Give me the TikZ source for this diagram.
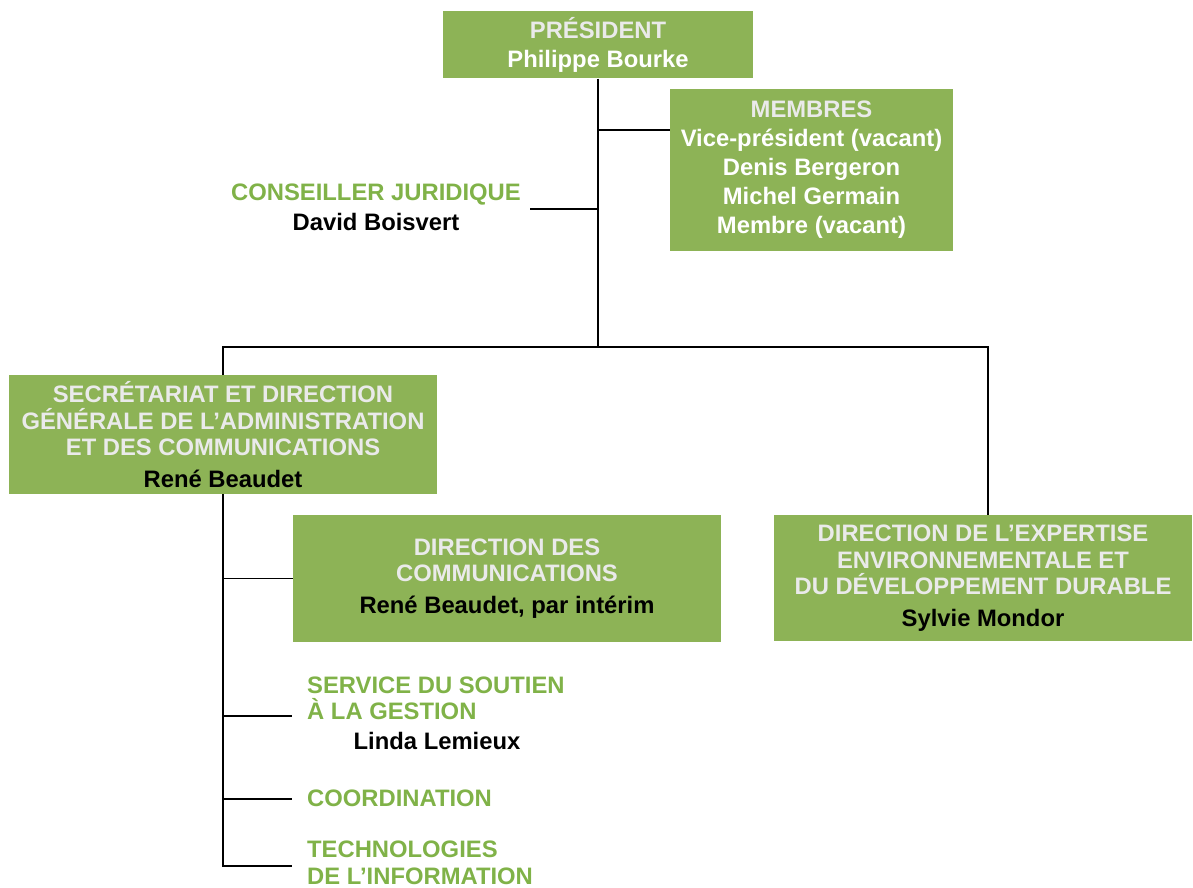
\documentclass[tikz,border=0pt]{standalone}
\usepackage{fontspec}
\setmainfont{Liberation Sans}
\usetikzlibrary{positioning,calc}
\definecolor{orgGreen}{RGB}{141,179,86}
\definecolor{orgText}{RGB}{128,178,72}
\definecolor{hdGrey}{RGB}{234,234,234}
\tikzset{
  box/.style={fill=orgGreen,align=center,inner sep=0pt,
              font=\bfseries\fontsize{23.8}{26.5}\selectfont},
  freetext/.style={align=left,inner sep=0pt,text=orgText,
              font=\bfseries\fontsize{23.8}{26.5}\selectfont},
  link/.style={line width=1.6pt},
}
\begin{document}
\begin{tikzpicture}[x=1pt,y=-1pt]
\useasboundingbox (0,0) rectangle (1193,888);

% top level
\node[box,minimum width=310,minimum height=67] (pres) at (598,45)
  {\color{hdGrey}PRÉSIDENT\\[2pt]\color{white}Philippe Bourke};
\node[box,minimum width=283,minimum height=162,
      font=\bfseries\fontsize{23.8}{29}\selectfont] (memb) at (811.5,170)
  {\color{hdGrey}MEMBRES\\\color{white}Vice-président (vacant)\\\color{white}Denis Bergeron\\
   \color{white}Michel Germain\\\color{white}Membre (vacant)};
\node[freetext,align=center,font=\bfseries\fontsize{23.8}{30}\selectfont] (cons) at (376,207)
  {CONSEILLER JURIDIQUE\\\color{black}David Boisvert};

% directions
\node[box,minimum width=428,minimum height=119] (sec) at (223,434.5)
  {\color{hdGrey}SECRÉTARIAT ET DIRECTION\\\color{hdGrey}GÉNÉRALE DE L’ADMINISTRATION\\
   \color{hdGrey}ET DES COMMUNICATIONS\\[5pt]\color{black}René Beaudet};
\node[box,minimum width=428,minimum height=127] (comm) at (507,578.5)
  {\color{hdGrey}DIRECTION DES\\\color{hdGrey}COMMUNICATIONS\\[5pt]\color{black}René Beaudet, par intérim};
\node[box,minimum width=418,minimum height=126] (exp) at (983,578)
  {\color{hdGrey}DIRECTION DE L’EXPERTISE\\\color{hdGrey}ENVIRONNEMENTALE ET\\
   \color{hdGrey}DU DÉVELOPPEMENT DURABLE\\[5pt]\color{black}Sylvie Mondor};

% services
\node[freetext,anchor=west] (sout) at (307,698.5) {SERVICE DU SOUTIEN\\À LA GESTION};
\node[freetext,text=black] (lem) at (437,741) {Linda Lemieux};
\node[freetext,anchor=west] (coord) at (307,798) {COORDINATION};
\node[freetext,anchor=west] (tech) at (307,863) {TECHNOLOGIES\\DE L’INFORMATION};

% connectors
\coordinate (bus) at (598,347);
\coordinate (membIn) at (670,130);
\coordinate (consIn) at (530,209);
\coordinate (expIn) at (988,515);
\coordinate (soutIn) at (292,716);
\coordinate (coordIn) at (292,799);
\coordinate (techIn) at (292,866);

\draw[link] (pres.south) -- (bus);
\draw[link] (membIn -| pres.south) -- (membIn);
\draw[link] (consIn) -- (consIn -| pres.south);
\draw[link] (sec.north) |- (bus) -| (expIn);
\draw[link] (sec.south) -- (sec.south |- techIn) -- (techIn);
\draw[link] (sec.south |- comm.west) -- (comm.west);
\draw[link] (sec.south |- soutIn) -- (soutIn);
\draw[link] (sec.south |- coordIn) -- (coordIn);
\end{tikzpicture}
\end{document}
